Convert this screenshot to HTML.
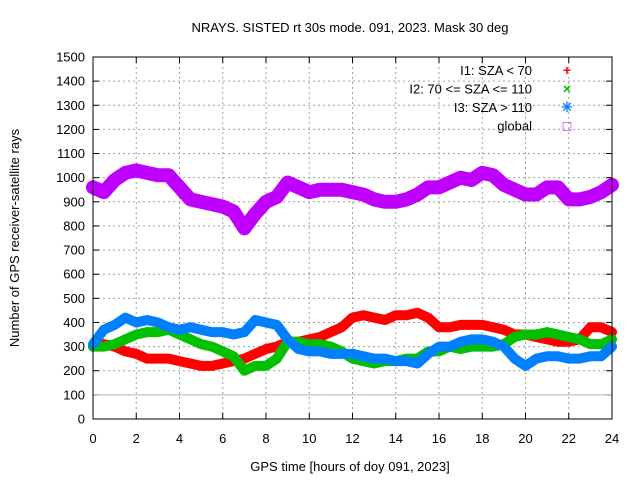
<!DOCTYPE html>
<html><head><meta charset="utf-8"><style>
body{margin:0;background:#fff}
svg{display:block;font-family:"Liberation Sans",sans-serif;font-size:13px}
</style></head><body>
<svg id="c" width="640" height="480"></svg>
<script>
const hours=[0,0.5,1,1.5,2,2.5,3,3.5,4,4.5,5,5.5,6,6.5,7,7.5,8,8.5,9,9.5,10,10.5,11,11.5,12,12.5,13,13.5,14,14.5,15,15.5,16,16.5,17,17.5,18,18.5,19,19.5,20,20.5,21,21.5,22,22.5,23,23.5,24];
const i1=[300,310,300,280,270,250,250,250,240,230,220,220,230,240,250,270,290,300,320,320,330,340,360,380,420,430,420,410,430,430,440,420,380,380,390,390,390,380,370,350,350,340,330,320,320,330,380,380,360];
const i2=[300,300,310,330,350,360,360,370,350,330,310,300,280,260,200,220,220,250,320,320,310,310,300,280,250,240,230,240,240,250,250,280,280,300,290,300,300,300,310,340,350,350,360,350,340,330,310,310,330];
const i3=[310,370,390,420,400,410,400,380,370,380,370,360,360,350,360,410,400,390,330,290,280,280,270,270,270,260,250,250,240,240,230,270,300,300,320,330,330,320,300,250,220,250,260,260,250,250,260,260,300];
const glob=[960,940,990,1020,1030,1020,1010,1010,960,910,900,890,880,860,790,850,900,920,980,960,940,950,950,950,940,930,910,900,900,910,930,960,960,980,1000,990,1020,1010,970,950,930,930,960,960,910,910,920,940,970];
const xTicks=[0,2,4,6,8,10,12,14,16,18,20,22,24];
const yTicks=[0,100,200,300,400,500,600,700,800,900,1000,1100,1200,1300,1400,1500];
const NS='http://www.w3.org/2000/svg';
const svg=document.getElementById('c');
const X0=93,X1=612,Y0=419,Y1=57;
const xs=v=>X0+(X1-X0)*v/24, ys=v=>Y0-(Y0-Y1)*v/1500;
function mk(t,a,txt){const e=document.createElementNS(NS,t);for(const k in a)e.setAttribute(k,a[k]);if(txt!==undefined)e.textContent=txt;svg.appendChild(e);return e;}
yTicks.forEach(v=>{if(v>0&&v<1500){const g=mk('line',{x1:X0,x2:X1,y1:ys(v),y2:ys(v),stroke:'#a0a0a0','stroke-dasharray':'2,3'});

}
const t=mk('text',{x:X0-8,y:ys(v)+4.5,'text-anchor':'end'},v);


mk('line',{x1:X0,x2:X0+6,y1:ys(v),y2:ys(v),stroke:'#000'});mk('line',{x1:X1,x2:X1-6,y1:ys(v),y2:ys(v),stroke:'#000'});});
xTicks.forEach(v=>{if(v>0&&v<24){const g=mk('line',{x1:xs(v),x2:xs(v),y1:Y0,y2:Y1,stroke:'#a0a0a0','stroke-dasharray':'2,3'});

}
const t=mk('text',{x:xs(v),y:Y0+24,'text-anchor':'middle'},v);


mk('line',{x1:xs(v),x2:xs(v),y1:Y0,y2:Y0-6,stroke:'#000'});mk('line',{x1:xs(v),x2:xs(v),y1:Y1,y2:Y1+6,stroke:'#000'});});
const ref=mk('line',{x1:X0,x2:X1,y1:ys(100),y2:ys(100),stroke:'#a8c8c8'});


function series(arr,col,name,w){const p=mk('polyline',{points:hours.map((h,i)=>xs(h)+','+ys(arr[i])).join(' '),fill:'none',stroke:col,'stroke-width':w,'stroke-linejoin':'round','stroke-linecap':'round'});

}
series(i1,'#ff0000','series-i1',10);series(i2,'#00c000','series-i2',10);series(i3,'#0080ff','series-i3',10);series(glob,'#c000ff','series-global',14);
const fr=mk('rect',{x:X0,y:Y1,width:X1-X0,height:Y0-Y1,fill:'none',stroke:'#000'});


const leg=[['I1: SZA < 70','#ff0000','+'],['I2: 70 <= SZA <= 110','#00c000','×'],['I3: SZA > 110','#0080ff','✳'],['global','#c000ff','□']];
leg.forEach((l,i)=>{const y=75+i*18.5;const t=mk('text',{x:532,y:y,'text-anchor':'end'},l[0]);


const m=mk('text',{x:567,y:y,'text-anchor':'middle',fill:l[1],'font-size':'14px','font-weight':'bold'},l[2]);

});
const ti=mk('text',{x:350,y:32,'text-anchor':'middle'},'NRAYS. SISTED rt 30s mode. 091, 2023. Mask 30 deg');


const xl=mk('text',{x:350,y:471,'text-anchor':'middle'},'GPS time [hours of doy 091, 2023]');


const yl=mk('text',{x:0,y:0,'text-anchor':'middle',transform:'translate(19,238) rotate(-90)'},'Number of GPS receiver-satellite rays');


</script>
</body></html>
